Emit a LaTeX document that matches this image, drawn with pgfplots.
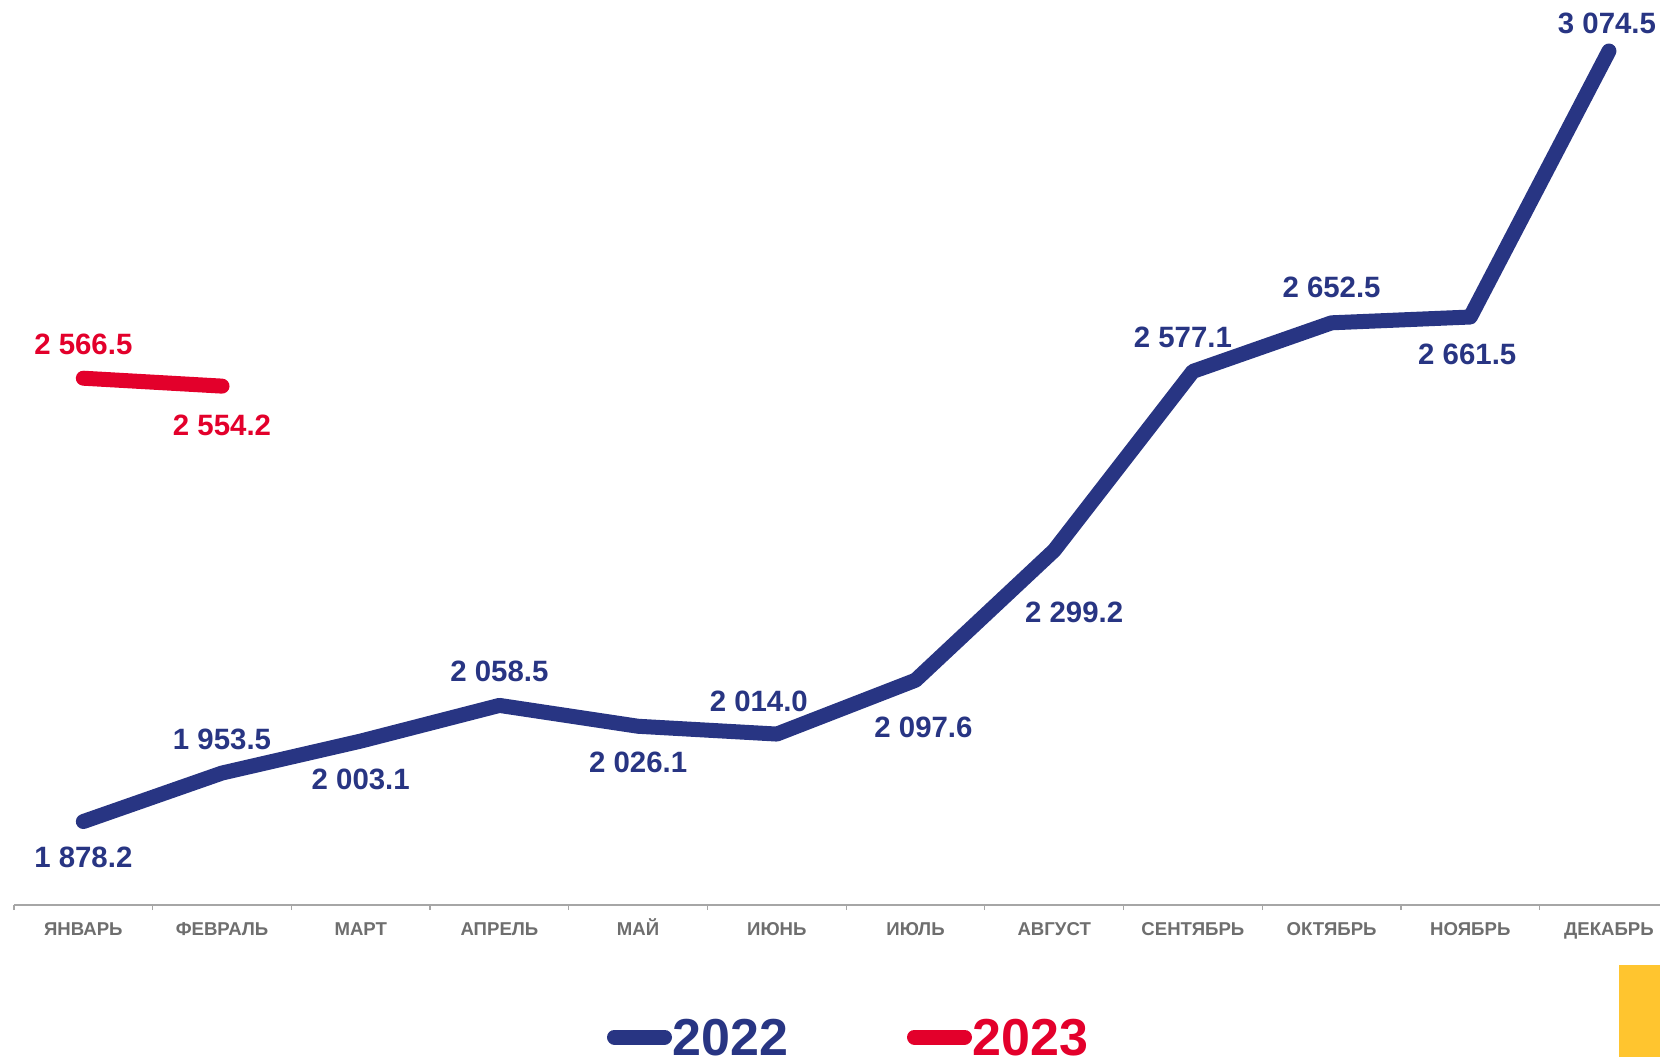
\documentclass[border=0pt]{standalone}
\usepackage{pgfplots}
\pgfplotsset{compat=1.18}
\usepackage{fontspec}
\setmainfont{Liberation Sans}

\definecolor{navy}{HTML}{283583}
\definecolor{crimson}{HTML}{E3002B}
\definecolor{amber}{HTML}{FFC52F}
\definecolor{axgray}{HTML}{A6A6A6}
\definecolor{lblgray}{HTML}{6E6E6E}

% 1 px of the reference = 0.5pt
\begin{document}
\begin{tikzpicture}
\path[use as bounding box] (0,0) rectangle (830pt,528.5pt);

\begin{axis}[
  at={(7pt,76pt)}, anchor=south west,
  scale only axis, width=823pt, height=452.5pt,
  xmin=-0.5, xmax=11.368,
  ymin=1748.6, ymax=3153.7,
  axis x line*=bottom, axis y line=none,
  x axis line style={draw=axgray, line width=0.8pt},
  xtick={0,...,11},
  xticklabels={ЯНВАРЬ,ФЕВРАЛЬ,МАРТ,АПРЕЛЬ,МАЙ,ИЮНЬ,ИЮЛЬ,АВГУСТ,СЕНТЯБРЬ,ОКТЯБРЬ,НОЯБРЬ,ДЕКАБРЬ},
  major tick length=0pt,
  xticklabel style={font=\bfseries\fontsize{9.3pt}{11pt}\selectfont, text=lblgray, anchor=base, yshift=-15.3pt},
  extra x ticks={-0.5,0.5,...,10.5},
  extra x tick labels={},
  extra x tick style={major tick length=2.5pt, tick align=outside, tick style={draw=axgray, line width=0.6pt}},
  clip=false,
]
\addplot[navy, line width=7.5pt, line cap=round, line join=round] coordinates {
  (0,1878.2) (1,1953.5) (2,2003.1) (3,2058.5) (4,2026.1) (5,2014.0)
  (6,2097.6) (7,2299.2) (8,2577.1) (9,2652.5) (10,2661.5) (11,3074.5)
};
\addplot[crimson, line width=7.5pt, line cap=round, line join=round] coordinates {
  (0,2566.5) (1,2554.2)
};

\tikzset{lbl/.style={font=\bfseries\fontsize{14.7pt}{16pt}\selectfont, text=navy}}
\node[lbl, yshift=-18pt] at (axis cs:0,1878.2) {1 878.2};
\node[lbl, yshift=17pt] at (axis cs:1,1953.5) {1 953.5};
\node[lbl, yshift=-19pt] at (axis cs:2,2003.1) {2 003.1};
\node[lbl, yshift=17pt] at (axis cs:3,2058.5) {2 058.5};
\node[lbl, yshift=-18pt] at (axis cs:4,2026.1) {2 026.1};
\node[lbl, yshift=16.5pt, xshift=-9pt] at (axis cs:5,2014.0) {2 014.0};
\node[lbl, yshift=-23.5pt, xshift=4pt] at (axis cs:6,2097.6) {2 097.6};
\node[lbl, yshift=-31pt, xshift=10pt] at (axis cs:7,2299.2) {2 299.2};
\node[lbl, yshift=17pt, xshift=-5pt] at (axis cs:8,2577.1) {2 577.1};
\node[lbl, yshift=17.5pt] at (axis cs:9,2652.5) {2 652.5};
\node[lbl, yshift=-18.5pt, xshift=-1.5pt] at (axis cs:10,2661.5) {2 661.5};
\node[lbl, yshift=14pt, xshift=-1pt] at (axis cs:11,3074.5) {3 074.5};
\node[lbl, text=crimson, yshift=17pt] at (axis cs:0,2566.5) {2 566.5};
\node[lbl, text=crimson, yshift=-19.5pt] at (axis cs:1,2554.2) {2 554.2};
\end{axis}

% legend
\draw[navy, line width=7.5pt, line cap=round] (307.25pt,10pt) -- (332.25pt,10pt);
\node[anchor=base west, inner sep=0pt, text=navy, font=\bfseries\fontsize{26pt}{28pt}\selectfont] at (336pt,1pt) {2022};
\draw[crimson, line width=7.5pt, line cap=round] (457.25pt,10pt) -- (482.25pt,10pt);
\node[anchor=base west, inner sep=0pt, text=crimson, font=\bfseries\fontsize{26pt}{28pt}\selectfont] at (486pt,1pt) {2023};

% corner tab
\fill[amber] (809.5pt,0pt) rectangle (830pt,46pt);
\end{tikzpicture}
\end{document}
